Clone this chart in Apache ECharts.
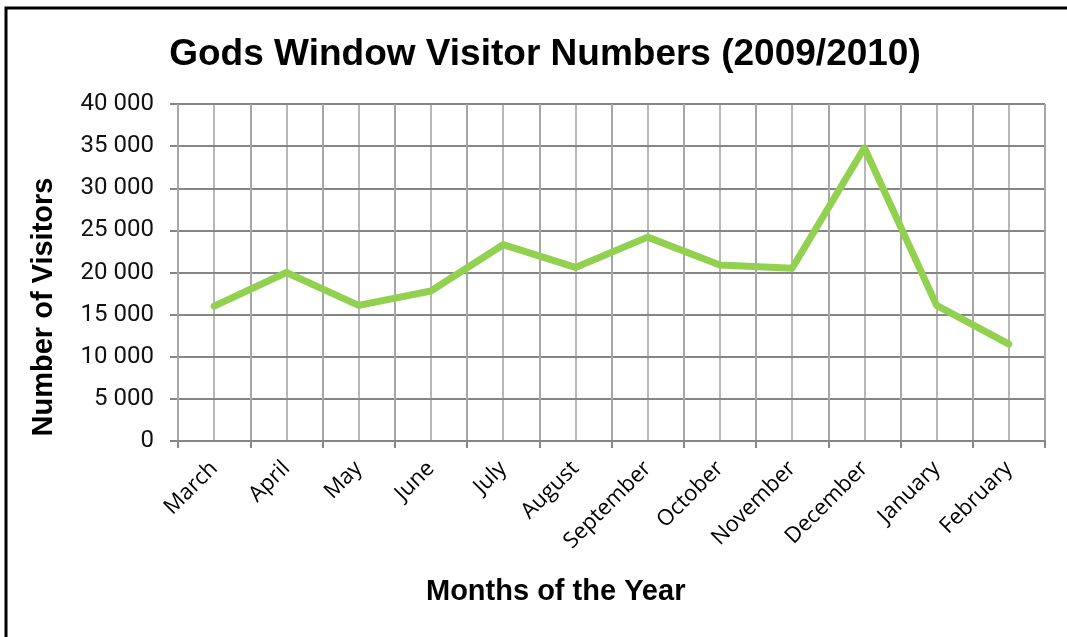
<!DOCTYPE html>
<html>
<head>
<meta charset="utf-8">
<script src="https://cdn.jsdelivr.net/npm/echarts@6/dist/echarts.min.js"></script>
<style>
  html, body { margin: 0; padding: 0; background: #fff; }
  #chart { width: 1067px; height: 637px; }
</style>
</head>
<body>
<div id="chart"></div>
<script>
// data
const months = ["March", "April", "May", "June", "July", "August", "September",
  "October", "November", "December", "January", "February"];
const visitors = [16000, 20000, 16100, 17800, 23300, 20600, 24200,
  20900, 20500, 34800, 16100, 11500];

const titleText = "Gods Window Visitor Numbers (2009/2010)";
const xName = "Months of the Year";
const yName = "Number of Visitors";

const fmt = v => String(v).replace(/\B(?=(\d{3})+(?!\d))/g, " ");

const chart = echarts.init(document.getElementById("chart"), null, { renderer: "canvas" });

chart.setOption({
  backgroundColor: "#fff",
  animation: false,
  title: {
    text: titleText,
    left: 540,
    top: 31,
    textAlign: "center",
    textStyle: { fontFamily: "Liberation Sans", fontWeight: "bold", fontSize: 37, color: "#000" },
  },
  grid: { left: 178, right: 22, top: 104, bottom: 196 },
  xAxis: [
    {
      type: "category",
      data: months,
      boundaryGap: true,
      axisLine: { lineStyle: { color: "#868686", width: 2 } },
      axisTick: { show: true, length: 7, lineStyle: { color: "#868686", width: 2 } },
      axisLabel: {
        rotate: 45,
        margin: 24,
        interval: 0,
        fontFamily: "Open Sans",
        fontSize: 22,
        color: "#000",
      },
      splitLine: { show: true, lineStyle: { color: "#a6a6a6", width: 2 } },
      z: 3,
    },
    {
      // half-band grid lines
      type: "value",
      min: 0,
      max: 12,
      interval: 0.5,
      show: true,
      axisLine: { show: false },
      axisTick: { show: false },
      axisLabel: { show: false },
      splitLine: { show: true, lineStyle: { color: "#b8b8b8", width: 2 } },
      z: 1,
    },
  ],
  yAxis: {
    type: "value",
    min: 0,
    max: 40000,
    interval: 5000,
    axisLine: { show: true, lineStyle: { color: "#868686", width: 2 } },
    axisTick: { show: true, length: 8, lineStyle: { color: "#868686", width: 2 } },
    axisLabel: {
      margin: 24,
      fontFamily: "Roboto",
      fontSize: 24,
      color: "#111",
      formatter: fmt,
    },
    splitLine: { show: true, lineStyle: { color: "#868686", width: 2 } },
    z: 2,
  },
  graphic: [
    {
      type: "text",
      left: 426,
      top: 577,
      style: { text: xName, fontFamily: "Liberation Sans", fontWeight: "bold", fontSize: 29, fill: "#000" },
    },
    {
      type: "text",
      x: 44,
      y: 307,
      rotation: Math.PI / 2,
      style: {
        text: yName,
        align: "center",
        verticalAlign: "middle",
        fontFamily: "Liberation Sans",
        fontWeight: "bold",
        fontSize: 29,
        fill: "#000",
      },
    },
    {
      type: "polyline",
      shape: { points: [[6, 637], [6, 8], [1067, 8]] },
      style: { stroke: "#000", lineWidth: 3, fill: null },
    },
  ],
  series: [
    {
      type: "line",
      data: visitors,
      xAxisIndex: 0,
      showSymbol: false,
      symbol: "none",
      lineStyle: { color: "#92d050", width: 7, join: "round", cap: "round" },
      z: 5,
    },
  ],
});
</script>
</body>
</html>
